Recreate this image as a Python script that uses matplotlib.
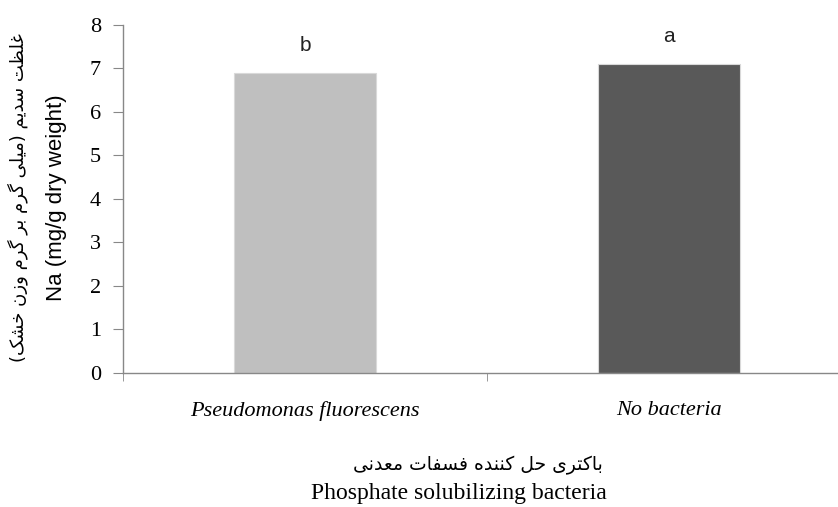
import matplotlib
matplotlib.use("Agg")
import matplotlib.pyplot as plt

categories = ["Pseudomonas fluorescens", "No bacteria"]
values = [6.9, 7.1]
letters = ["b", "a"]
colors = ["#BFBFBF", "#595959"]
yticks = [0, 1, 2, 3, 4, 5, 6, 7, 8]

ylabel_fa = "غلظت سدیم (میلی گرم بر گرم وزن خشک)"
ylabel_en = "Na (mg/g dry weight)"
xlabel_fa = "باکتری حل کننده فسفات معدنی"
xlabel_en = "Phosphate solubilizing bacteria"

# small arabic/persian shaper: isolated, final, initial, medial
forms = {
    "ا": ("\uFE8D", "\uFE8E"), "ب": ("\uFE8F", "\uFE90", "\uFE91", "\uFE92"),
    "ت": ("\uFE95", "\uFE96", "\uFE97", "\uFE98"), "ح": ("\uFEA1", "\uFEA2", "\uFEA3", "\uFEA4"),
    "خ": ("\uFEA5", "\uFEA6", "\uFEA7", "\uFEA8"), "د": ("\uFEA9", "\uFEAA"),
    "ر": ("\uFEAD", "\uFEAE"), "ز": ("\uFEAF", "\uFEB0"),
    "س": ("\uFEB1", "\uFEB2", "\uFEB3", "\uFEB4"), "ش": ("\uFEB5", "\uFEB6", "\uFEB7", "\uFEB8"),
    "ظ": ("\uFEC5", "\uFEC6", "\uFEC7", "\uFEC8"), "ع": ("\uFEC9", "\uFECA", "\uFECB", "\uFECC"),
    "غ": ("\uFECD", "\uFECE", "\uFECF", "\uFED0"), "ف": ("\uFED1", "\uFED2", "\uFED3", "\uFED4"),
    "ل": ("\uFEDD", "\uFEDE", "\uFEDF", "\uFEE0"), "م": ("\uFEE1", "\uFEE2", "\uFEE3", "\uFEE4"),
    "ن": ("\uFEE5", "\uFEE6", "\uFEE7", "\uFEE8"), "ه": ("\uFEE9", "\uFEEA", "\uFEEB", "\uFEEC"),
    "و": ("\uFEED", "\uFEEE"), "ی": ("\uFBFC", "\uFBFD", "\uFBFE", "\uFBFF"),
    "ک": ("\uFB8E", "\uFB8F", "\uFB90", "\uFB91"), "گ": ("\uFB92", "\uFB93", "\uFB94", "\uFB95"),
}


def shape(s):
    out = []
    for i, c in enumerate(s):
        if c not in forms:
            out.append(c)
            continue
        prev = s[i - 1] if i > 0 else ""
        nxt = s[i + 1] if i + 1 < len(s) else ""
        jp = prev in forms and len(forms[prev]) == 4
        jn = len(forms[c]) == 4 and nxt in forms
        f = forms[c]
        if jp and jn:
            out.append(f[3])
        elif jp:
            out.append(f[1])
        elif jn:
            out.append(f[2])
        else:
            out.append(f[0])
    vis = "".join(out)[::-1]
    return vis.translate(str.maketrans("()", ")("))


fig = plt.figure(figsize=(8.38, 5.07), dpi=100)
ax = fig.add_axes([0.1468, 0.2643, 0.8687, 0.6864])

x = range(len(categories))
ax.bar(x, values, width=0.39, color=colors, edgecolor="#D9D9D9", linewidth=0.8)
for i, v in enumerate(values):
    ax.text(i, v + 0.42, letters[i], ha="center", va="bottom", fontsize=15,
            family="Liberation Sans", color="#222222")

ax.set_xlim(-0.5, 1.5)
ax.set_ylim(0, 8)
ax.set_yticks(yticks)
ax.set_yticklabels([str(t) for t in yticks], family="Liberation Serif", fontsize=16)
ax.set_xticks(list(x))
ax.set_xticklabels(categories, family="Liberation Serif", style="italic", fontsize=16)
ax.set_xticks([-0.5, 0.5, 1.5], minor=True)
ax.tick_params(axis="x", which="major", length=0, pad=20)
ax.tick_params(axis="x", which="minor", length=6, color="#888888", direction="out")
ax.tick_params(axis="y", length=7, color="#888888", direction="out", pad=9)

for s in ["top", "right"]:
    ax.spines[s].set_visible(False)
for s in ["left", "bottom"]:
    ax.spines[s].set_color("#888888")
    ax.spines[s].set_linewidth(1.0)

fig.text(0.068, 0.61, ylabel_en, rotation=90, ha="center", va="center",
         fontsize=16, family="Liberation Sans")
fig.text(0.021, 0.61, shape(ylabel_fa), rotation=90, ha="center", va="center",
         fontsize=13, family="DejaVu Sans")
fig.text(0.57, 0.082, shape(xlabel_fa), ha="center", va="center",
         fontsize=13.5, family="DejaVu Sans")
fig.text(0.548, 0.026, xlabel_en, ha="center", va="center",
         fontsize=17, family="Liberation Serif")

fig.savefig("out.png", dpi=100)
